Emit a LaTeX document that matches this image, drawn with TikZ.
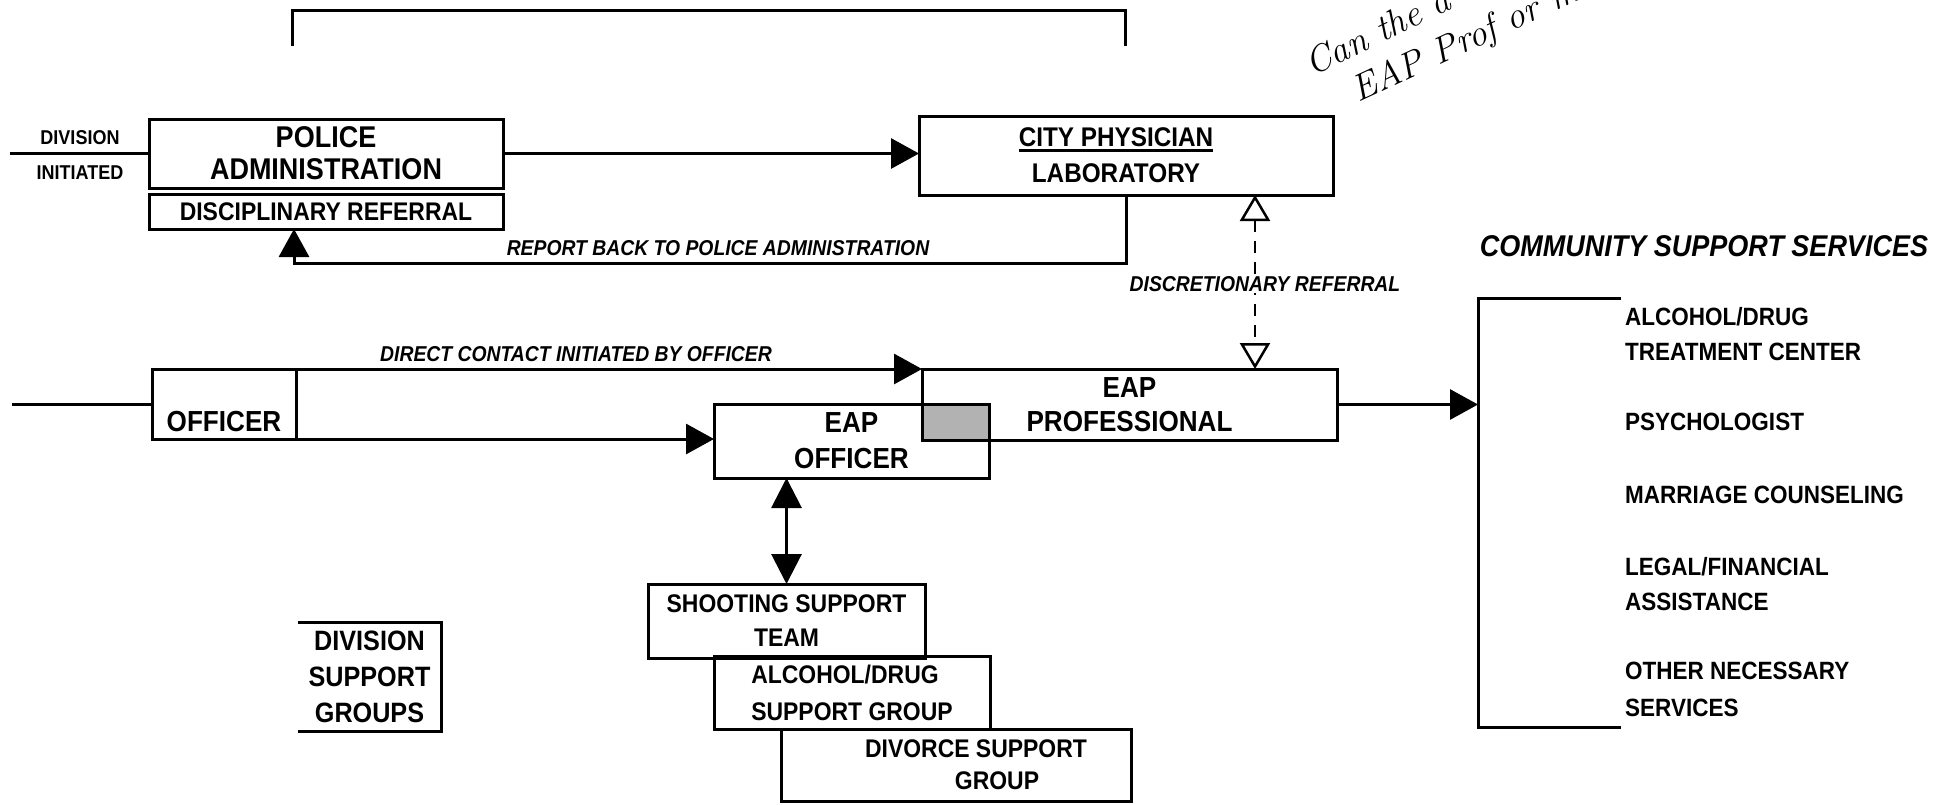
\documentclass[tikz,border=0pt]{standalone}
\usepackage{fontspec}
\newfontfamily\bx{Liberation Sans}[FakeStretch=0.9]
\usetikzlibrary{arrows.meta,calc}
\newcommand\ulbar[1]{\setbox0\hbox{#1}\rlap{\rule[-5pt]{\wd0}{2.5pt}}\box0}
\tikzset{
  box/.style={draw, line width=3pt, rectangle, inner sep=0pt, outer sep=0pt, align=center},
  lbl/.style={font=\bx\bfseries\itshape\fontsize{21.5}{26}\selectfont, inner sep=1pt},
  item/.style={font=\bx\bfseries\fontsize{25}{35}\selectfont, align=left, inner sep=0pt, anchor=west},
  ln/.style={line width=3pt},
  arr/.style={line width=3pt, -{Triangle[length=28pt,width=30pt]}},
  darr/.style={line width=3pt, {Triangle[length=30pt,width=30pt]}-{Triangle[length=30pt,width=30pt]}},
  oarr/.style={line width=2.5pt, dash pattern=on 12pt off 9pt,
    {Triangle[open,length=26pt,width=30pt,line width=2.5pt]}-{Triangle[open,length=26pt,width=30pt,line width=2.5pt]}},
  hand/.style={font=\itshape\fontsize{37}{42}\selectfont, inner sep=0pt, anchor=base west},
}
\begin{document}
\begin{tikzpicture}[x=1pt,y=-1pt]
\path[use as bounding box, fill=white] (0,0) rectangle (1948,804);

% boxes
\node[box, minimum width=354pt, minimum height=69pt, font=\bx\bfseries\fontsize{30}{32}\selectfont] (police) at (326,153.5) {POLICE\\ADMINISTRATION};
\node[box, minimum width=354pt, minimum height=35pt, font=\bx\bfseries\fontsize{25.5}{30}\selectfont] (disc) at (326,211.5) {DISCIPLINARY REFERRAL};
\node[box, minimum width=414pt, minimum height=79pt,
  label={[name=cityt, xshift=-10pt, align=center, font=\bx\bfseries\fontsize{27}{36}\selectfont]center:{\ulbar{CITY PHYSICIAN}\\LABORATORY}}] (city) at (1126,155.5) {};
\node[box, minimum width=144pt, minimum height=70pt,
  label={[name=offt, yshift=-18pt, font=\bx\bfseries\fontsize{29}{34}\selectfont]center:OFFICER}] (officer) at (224,404) {};
\node[box, minimum width=275pt, minimum height=74pt, font=\bx\bfseries\fontsize{29}{36}\selectfont] (eapo) at (851.5,441) {EAP\\OFFICER};
\node[box, minimum width=415pt, minimum height=71pt, font=\bx\bfseries\fontsize{29}{34}\selectfont] (eapp) at (1129.5,404.5) {EAP\\PROFESSIONAL};
\fill[gray!60] ([xshift=1.5pt,yshift=1.5pt]eapp.south west) rectangle ([xshift=-1.5pt,yshift=-1.5pt]eapo.north east);
\node[box, minimum width=277pt, minimum height=74pt, font=\bx\bfseries\fontsize{25.5}{34}\selectfont] (shoot) at (786.5,621) {SHOOTING SUPPORT\\TEAM};
\node[box, minimum width=276pt, minimum height=73pt, font=\bx\bfseries\fontsize{25.5}{37}\selectfont, align=left] (alc) at (852,692.5) {ALCOHOL/DRUG\\SUPPORT GROUP};
\node[box, minimum width=350pt, minimum height=72pt,
  label={[name=divt, xshift=41pt, align=center, font=\bx\bfseries\fontsize{25.5}{32}\selectfont]center:{\hspace*{-42pt}DIVORCE SUPPORT\\GROUP}}] (div) at (956,765) {};
\node[rectangle, inner sep=0pt, outer sep=0pt, minimum width=143pt, minimum height=109pt, align=center, font=\bx\bfseries\fontsize{28}{36}\selectfont] (dsg) at (369.5,676.5) {DIVISION\\SUPPORT\\GROUPS};
\draw[ln] (dsg.north west) -- (dsg.north east) -- (dsg.south east) -- (dsg.south west);

% small labels
\node[font=\bx\bfseries\fontsize{20}{22}\selectfont, inner sep=0pt] (dv) at (80,138) {DIVISION};
\node[font=\bx\bfseries\fontsize{20}{22}\selectfont, inner sep=0pt] (ini) at (80,173) {INITIATED};

% top bracket
\coordinate (tb1) at (292,46);
\coordinate (tb2) at (1125,46);
\draw[ln] (tb1) -- (292,10) -- (1125,10) -- (tb2);

% connectors
\coordinate (di) at (10,153.5);
\draw[ln] (di) -- (police.west);
\draw[arr] (police.east) -- (police.east -| city.west);
\coordinate (rb) at (294,263);
\draw[arr] (city.south) |- (rb) -- (rb |- disc.south);
\node[lbl] (rbl) at (718,248) {REPORT BACK TO POLICE ADMINISTRATION};

\coordinate (oi) at (12,404);
\draw[ln] (oi) -- (officer.west);
\draw[arr] (officer.north east) -- (officer.north east -| eapp.west);
\draw[arr] (officer.south east) -- (officer.south east -| eapo.west);
\node[lbl] (dcl) at (576,354) {DIRECT CONTACT INITIATED BY OFFICER};

\coordinate (dr) at (1255,284);
\draw[oarr] (dr |- city.south) -- (dr |- eapp.north);
\node[lbl, fill=white] (drl) at (1265,284) {DISCRETIONARY REFERRAL};

\draw[darr] (shoot.north |- eapo.south) -- (shoot.north);

% community support services
\node[font=\bx\bfseries\itshape\fontsize{30}{34}\selectfont, inner sep=0pt] (cst) at (1704,246) {COMMUNITY SUPPORT SERVICES};
\coordinate (cbt) at (1621,298);
\coordinate (cbb) at (1621,727);
\coordinate (cbv) at (1478,404);
\draw[ln] (cbt) -- (cbt -| cbv) -- (cbb -| cbv) -- (cbb);
\draw[arr] (eapp.east) -- (eapp.east -| cbv);
\node[item] (c1) at (1625,334.5) {ALCOHOL/DRUG\\TREATMENT CENTER};
\node[item] (c2) at (1625,422) {PSYCHOLOGIST};
\node[item] (c3) at (1625,495) {MARRIAGE COUNSELING};
\node[item] (c4) at (1625,584) {LEGAL/FINANCIAL\\ASSISTANCE};
\node[item, font=\bx\bfseries\fontsize{25}{37}\selectfont] (c5) at (1625,689.5) {OTHER NECESSARY\\SERVICES};

% handwritten note
\node[hand, rotate=26] (hw1) at (1312,77) {Can the a};
\node[hand, rotate=25] (hw2) at (1358,103) {EAP Prof or m};
\end{tikzpicture}
\end{document}
